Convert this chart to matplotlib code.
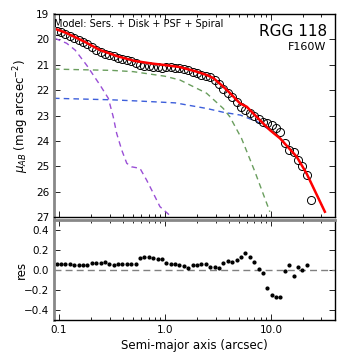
import matplotlib
matplotlib.use("Agg")
import matplotlib.pyplot as plt
import numpy as np

# ---- data ----
sma = [0.095, 0.105, 0.115, 0.127, 0.139, 0.153, 0.168, 0.185, 0.204, 0.224,
       0.247, 0.271, 0.298, 0.328, 0.361, 0.397, 0.437, 0.481, 0.529, 0.582,
       0.640, 0.704, 0.774, 0.852, 0.937, 1.03, 1.13, 1.25, 1.37, 1.51,
       1.66, 1.83, 2.01, 2.21, 2.43, 2.67, 2.94, 3.24, 3.56, 3.92,
       4.31, 4.74, 5.21, 5.74, 6.31, 6.94, 7.64, 8.40, 9.24, 10.2,
       11.2, 12.3, 13.5, 14.9, 16.4, 18.0, 19.8, 21.8, 24.0]
mu_obs = [19.67, 19.72, 19.79, 19.87, 19.94, 20.02, 20.11, 20.20, 20.31, 20.41,
          20.50, 20.57, 20.61, 20.66, 20.73, 20.77, 20.82, 20.86, 20.91, 21.00,
          21.03, 21.06, 21.08, 21.09, 21.11, 21.09, 21.10, 21.12, 21.13, 21.17,
          21.20, 21.27, 21.32, 21.39, 21.45, 21.50, 21.60, 21.74, 21.94, 22.12,
          22.28, 22.47, 22.67, 22.80, 22.90, 23.03, 23.13, 23.27, 23.29, 23.38,
          23.50, 23.65, 24.10, 24.35, 24.43, 24.74, 24.99, 25.33, 26.33]
res = [0.057, 0.057, 0.057, 0.057, 0.047, 0.047, 0.047, 0.047, 0.067, 0.070,
       0.073, 0.080, 0.055, 0.050, 0.055, 0.055, 0.055, 0.055, 0.055, 0.123,
       0.125, 0.125, 0.120, 0.107, 0.107, 0.067, 0.057, 0.057, 0.045, 0.040,
       0.022, 0.045, 0.045, 0.057, 0.057, 0.033, 0.033, 0.023, 0.073, 0.090,
       0.080, 0.097, 0.133, 0.173, 0.130, 0.080, 0.007, -0.027, -0.177, -0.250,
       -0.267, -0.273, -0.010, 0.047, -0.060, 0.027, -0.003, 0.047]

# total model (red)
model_r = [0.0897, 0.102, 0.118, 0.176, 0.244, 0.360, 0.521, 0.753, 1.0, 1.387,
           1.92, 2.47, 2.86, 3.55, 4.10, 5.11, 5.90, 8.45, 9.77, 12.2,
           17.5, 21.7, 32.3]
model_mu = [19.57, 19.65, 19.75, 20.10, 20.42, 20.67, 20.85, 20.95, 21.01, 21.09,
            21.25, 21.40, 21.52, 21.86, 22.11, 22.52, 22.65, 23.31, 23.57, 23.90,
            24.62, 25.28, 26.79]

# Sersic / disk (green)
disk_r = [0.0897, 0.316, 0.502, 1.0, 1.387, 2.47, 3.55, 4.10, 5.28, 7.06, 9.77]
disk_mu = [21.17, 21.22, 21.27, 21.45, 21.60, 22.12, 22.72, 23.05, 23.90, 25.21, 26.79]

# spiral (blue)
spir_r = [0.0897, 0.316, 0.58, 1.25, 2.47, 3.55, 5.13, 7.41, 9.77, 12.2, 17.5, 21.7, 32.3]
spir_mu = [22.32, 22.38, 22.43, 22.50, 22.72, 22.87, 22.98, 23.24, 23.57, 23.90, 24.62, 25.28, 26.79]

# PSF / bulge (purple)
psf_r = [0.0917, 0.118, 0.142, 0.182, 0.244, 0.292, 0.325, 0.350, 0.391, 0.436,
         0.485, 0.581, 0.671, 0.776, 0.897, 1.16]
psf_mu = [19.96, 20.15, 20.42, 21.01, 21.80, 22.32, 23.05, 23.70, 24.36, 24.88,
          25.02, 25.08, 25.54, 26.06, 26.59, 27.00]

fig = plt.figure(figsize=(3.6, 3.6), dpi=100)
ax1 = fig.add_axes([0.15, 0.397, 0.781, 0.564])
ax2 = fig.add_axes([0.15, 0.111, 0.781, 0.278])

for ax in (ax1, ax2):
    ax.set_xscale("log")
    ax.set_xlim(0.0897, 40.4)
    ax.tick_params(which="both", direction="in", top=True, right=True,
                   labelsize=7.5, colors="black")
    ax.tick_params(which="major", length=4, width=0.6)
    ax.tick_params(which="minor", length=2, width=0.6)
    for s in ax.spines.values():
        s.set_linewidth(1.0)
        s.set_color("black")
    ax.spines["left"].set_color("#888888")
    ax.spines["left"].set_linewidth(2.0)

ax2.spines["top"].set_color("#888888")
ax2.spines["top"].set_linewidth(2.0)

# top panel
ax1.plot(disk_r, disk_mu, color="#6a9e5e", lw=1.0, dashes=(4, 3))
ax1.plot(spir_r, spir_mu, color="#3d5fdb", lw=1.0, dashes=(4, 3))
ax1.plot(psf_r, psf_mu, color="#9a4fd6", lw=1.0, dashes=(4, 3))
ax1.plot(sma, mu_obs, "o", mfc="none", mec="black", ms=5.8, mew=0.7)
ax1.plot(model_r, model_mu, color="red", lw=1.8)
ax1.set_ylim(27, 19)
ax1.set_yticks([19, 20, 21, 22, 23, 24, 25, 26, 27])
ax1.tick_params(labelbottom=False)
ax1.set_ylabel(r"$\mu_{AB}$ (mag arcsec$^{-2}$)", fontsize=8.5)
ax1.yaxis.set_label_coords(-0.082, 0.5)
ax1.text(0.0, 0.952, "Model: Sers. + Disk + PSF + Spiral", transform=ax1.transAxes,
         fontsize=7, ha="left", va="center")
ax1.text(0.97, 0.912, "RGG 118", transform=ax1.transAxes, fontsize=11,
         ha="right", va="center")
ax1.text(0.97, 0.84, "F160W", transform=ax1.transAxes, fontsize=8,
         ha="right", va="center")

# bottom panel
ax2.axhline(0.0, color="gray", lw=1.0, dashes=(5, 3))
ax2.plot(sma[:len(res)], res, "o", color="black", ms=2.0)
ax2.set_ylim(-0.5, 0.5)
ax2.set_yticks([-0.4, -0.2, 0.0, 0.2, 0.4])
ax2.set_xticks([0.1, 1.0, 10.0])
ax2.set_xticklabels(["0.1", "1.0", "10.0"])
ax2.set_ylabel("res", fontsize=8.5)
ax2.yaxis.set_label_coords(-0.092, 0.5)
ax2.set_xlabel("Semi-major axis (arcsec)", fontsize=8.5, labelpad=3)

fig.savefig("out.png", dpi=100)
